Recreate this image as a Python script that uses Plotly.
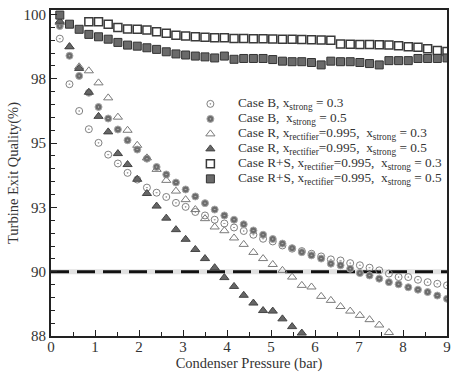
import plotly.graph_objects as go

# ---------------- data ----------------
x_full = [0.20, 0.42, 0.64, 0.86, 1.08, 1.30, 1.52, 1.74, 1.96, 2.18,
          2.40, 2.62, 2.84, 3.06, 3.28, 3.50, 3.72, 3.94, 4.16, 4.38,
          4.60, 4.82, 5.04, 5.26, 5.48, 5.70, 5.92, 6.14, 6.36, 6.58,
          6.80, 7.02, 7.24, 7.46, 7.68, 7.90, 8.12, 8.34, 8.56, 8.78, 9.00]

caseB_03 = [99.10, 97.40, 96.40, 95.72, 95.21, 94.77, 94.44, 94.09, 93.84, 93.54,
            93.35, 93.19, 92.97, 92.82, 92.63, 92.50, 92.34, 92.20, 92.05, 91.92,
            91.78, 91.63, 91.53, 91.38, 91.26, 91.17, 91.07, 90.97, 90.86, 90.82,
            90.72, 90.64, 90.55, 90.45, 90.33, 90.20, 90.20, 90.10, 90.01, 89.95, 89.89]

caseB_05 = [99.57, 98.46, 97.71, 97.08, 96.55, 96.12, 95.71, 95.31, 94.96, 94.62,
            94.31, 94.03, 93.73, 93.47, 93.21, 92.96, 92.72, 92.50, 92.34, 92.17,
            91.94, 91.78, 91.62, 91.45, 91.28, 91.13, 91.01, 90.89, 90.70, 90.64,
            90.51, 90.35, 90.26, 90.14, 90.01, 89.93, 89.82, 89.73, 89.64, 89.51, 89.39]

x_R03 = x_full[:35]
caseR_03 = [99.70, 98.80, 98.05, 97.90, 97.45, 96.89, 96.17, 95.68, 95.12, 94.65,
            94.22, 93.81, 93.41, 93.09, 92.72, 92.38, 92.07, 91.93, 91.66, 91.42,
            91.12, 90.89, 90.67, 90.45, 90.20, 89.89, 89.83, 89.48, 89.33, 89.10,
            88.93, 88.77, 88.61, 88.41, 88.13]

x_R05 = x_full[:26]
caseR_05 = [99.75, 98.80, 97.99, 97.10, 96.20, 95.62, 94.81, 94.40, 93.85, 93.32,
            92.85, 92.40, 91.97, 91.61, 91.23, 90.89, 90.55, 90.18, 89.85, 89.52,
            89.23, 88.95, 88.93, 88.64, 88.35, 88.11]

x_RS03 = x_full[3:]
caseRS_03 = [99.73, 99.73, 99.64, 99.52, 99.46, 99.45, 99.42, 99.36, 99.30, 99.23,
             99.20, 99.17, 99.15, 99.13, 99.13, 99.11, 99.11, 99.10, 99.10, 99.09,
             99.08, 99.08, 99.07, 99.06, 99.05, 99.04, 98.90, 98.89, 98.88, 98.88,
             98.87, 98.86, 98.84, 98.80, 98.78, 98.72, 98.66, 98.62]

caseRS_05 = [99.98, 99.64, 99.45, 99.26, 99.17, 99.08, 98.96, 98.86, 98.82, 98.76,
             98.70, 98.61, 98.53, 98.49, 98.45, 98.42, 98.38, 98.45, 98.33, 98.36,
             98.36, 98.36, 98.32, 98.26, 98.24, 98.24, 98.21, 98.12, 98.26, 98.24,
             98.24, 98.21, 98.17, 98.12, 98.28, 98.28, 98.28, 98.36, 98.36, 98.36, 98.38]

threshold = 90.4

y_tickvals = [88, 90.4, 92.8, 95.2, 97.6, 100]
y_ticktext = ["88", "90", "93", "95", "98", "100"]
x_tickvals = [0, 1, 2, 3, 4, 5, 6, 7, 8, 9]

legend_labels = [
    "Case B, x<sub>strong</sub> = 0.3",
    "Case B,  x<sub>strong</sub> = 0.5",
    "Case R, x<sub>rectifier</sub>=0.995,  x<sub>strong</sub> = 0.3",
    "Case R, x<sub>rectifier</sub>=0.995,  x<sub>strong</sub> = 0.5",
    "Case R+S, x<sub>rectifier</sub>=0.995,  x<sub>strong</sub> = 0.3",
    "Case R+S, x<sub>rectifier</sub>=0.995,  x<sub>strong</sub> = 0.5",
]

# ---------------- styles ----------------
SERIF = "Liberation Serif"
TXT = "#333333"
styles = [
    dict(symbol="circle-open-dot", size=7, color="#808080", line=dict(width=1, color="#808080")),
    dict(symbol="circle-dot", size=7, color="#6c6c6c", line=dict(width=1, color="#a8a8a8")),
    dict(symbol="triangle-up-open", size=8, color="#7a7a7a", line=dict(width=1, color="#7a7a7a")),
    dict(symbol="triangle-up", size=8, color="#666666", line=dict(width=1, color="#444444")),
    dict(symbol="square-open", size=8, color="#3a3a3a", line=dict(width=1.5, color="#3a3a3a")),
    dict(symbol="square", size=8, color="#6a6a6a", line=dict(width=1, color="#333333")),
]

series = [
    (x_full, caseB_03),
    (x_full, caseB_05),
    (x_R03, caseR_03),
    (x_R05, caseR_05),
    (x_RS03, caseRS_03),
    (x_full, caseRS_05),
]

fig = go.Figure()

# threshold dashed line
fig.add_trace(go.Scatter(x=[0, 9], y=[threshold, threshold], mode="lines",
                         line=dict(color="#e2e2e2", width=5), showlegend=False, hoverinfo="skip"))
fig.add_trace(go.Scatter(x=[0, 9], y=[threshold, threshold], mode="lines",
                         line=dict(color="#111111", width=3, dash="18px,8px"),
                         showlegend=False, hoverinfo="skip"))

for (xs, ys), st, lab in zip(series, styles, legend_labels):
    fig.add_trace(go.Scatter(x=xs, y=ys, mode="markers", marker=st, name=lab,
                             showlegend=False, cliponaxis=True))

# custom legend (overlay axes in plot-area fraction units)
n = len(legend_labels)
row_top, row_step = 0.712, 0.046
rows_y = [row_top - i * row_step for i in range(n)]
mk_x = 0.4025
txt_x = 0.468
for i, (st, lab) in enumerate(zip(styles, legend_labels)):
    fig.add_trace(go.Scatter(x=[mk_x], y=[rows_y[i]], mode="markers", marker=st,
                             xaxis="x2", yaxis="y2", showlegend=False, hoverinfo="skip"))
    fig.add_annotation(x=txt_x, y=rows_y[i], xref="x2", yref="y2", text=lab,
                       showarrow=False, xanchor="left", yanchor="middle",
                       font=dict(family=SERIF, size=13.3, color=TXT))

fig.update_layout(
    width=455, height=375,
    margin=dict(l=51, r=4, t=10, b=39),
    paper_bgcolor="white", plot_bgcolor="white",
    showlegend=False,
    xaxis=dict(range=[0, 9], tickvals=x_tickvals, ticks="inside", ticklen=6, tickwidth=1.2,
               tickcolor="#222", showline=True, linecolor="#222", linewidth=1.8, mirror=True,
               showgrid=False, zeroline=False, ticklabelstandoff=-4,
               minor=dict(ticks="inside", dtick=0.5, tick0=0, ticklen=4, tickcolor="#222"),
               tickfont=dict(family=SERIF, size=15, color=TXT),
               title=dict(text="Condenser Pressure (bar)", font=dict(family=SERIF, size=14.5, color=TXT),
                          standoff=0)),
    yaxis=dict(range=[88, 100.17], tickmode="array", tickvals=y_tickvals, ticktext=y_ticktext,
               ticks="inside", ticklen=6, tickwidth=1.2, tickcolor="#222",
               showline=True, linecolor="#222", linewidth=1.8, mirror=True,
               showgrid=False, zeroline=False,
               minor=dict(ticks="inside", tickmode="linear", tick0=88, dtick=0.48, ticklen=4, tickcolor="#222"),
               tickfont=dict(family=SERIF, size=15, color=TXT),
               title=dict(text="Turbine Exit Quality(%)", font=dict(family=SERIF, size=14.5, color=TXT),
                          standoff=2)),
    xaxis2=dict(range=[0, 1], overlaying="x", visible=False, fixedrange=True),
    yaxis2=dict(range=[0, 1], overlaying="y", visible=False, fixedrange=True),
)

fig.write_html("out.html")
